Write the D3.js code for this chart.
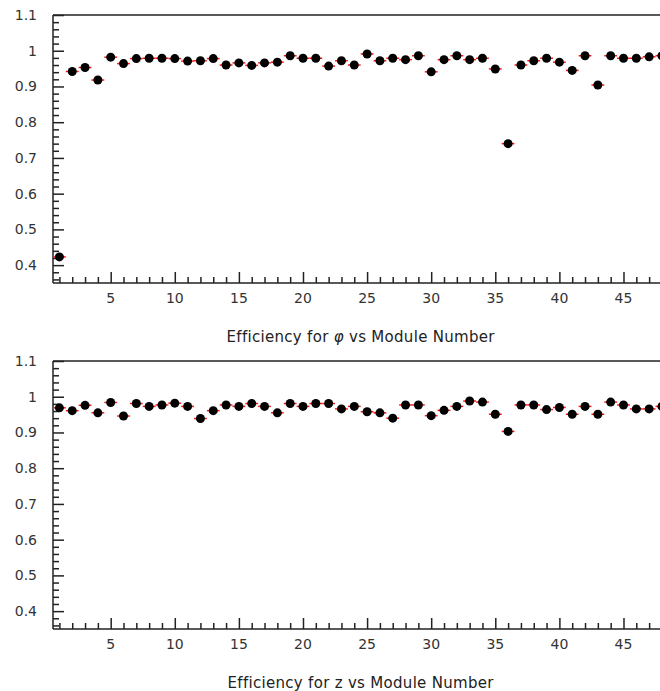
<!DOCTYPE html>
<html>
<head>
<meta charset="utf-8">
<script src="https://cdn.jsdelivr.net/npm/d3@7"></script>
<style>
  body { margin: 0; background: #fff; }
  svg { display: block; }
</style>
</head>
<body>
<script>
const width = 660;
const height = 691;

// module numbers 1..48
const modules = d3.range(1, 49);

const effPhi = [
  0.423, 0.942, 0.953, 0.918, 0.982, 0.964, 0.978, 0.979, 0.979, 0.978,
  0.971, 0.972, 0.978, 0.960, 0.966, 0.959, 0.966, 0.968, 0.986, 0.979,
  0.979, 0.957, 0.972, 0.960, 0.991, 0.972, 0.979, 0.975, 0.986, 0.941,
  0.975, 0.986, 0.975, 0.979, 0.949, 0.740, 0.960, 0.972, 0.979, 0.968,
  0.945, 0.986, 0.904, 0.986, 0.979, 0.979, 0.983, 0.986
];

const effZ = [
  0.969, 0.961, 0.976, 0.955, 0.984, 0.946, 0.981, 0.973, 0.977, 0.982,
  0.973, 0.939, 0.961, 0.977, 0.973, 0.981, 0.973, 0.955, 0.981, 0.973,
  0.981, 0.981, 0.966, 0.973, 0.958, 0.955, 0.940, 0.977, 0.977, 0.947,
  0.962, 0.973, 0.988, 0.985, 0.951, 0.903, 0.977, 0.977, 0.964, 0.970,
  0.951, 0.973, 0.951, 0.985, 0.977, 0.966, 0.966, 0.973
];

const yTicks = [0.4, 0.5, 0.6, 0.7, 0.8, 0.9, 1, 1.1];
const xTicks = [5, 10, 15, 20, 25, 30, 35, 40, 45];

const marginLeft = 53;
const plotW = 48 * 12.82;
const plotH = 268;
const font = "'DejaVu Sans', sans-serif";

const svg = d3.select("body").append("svg")
  .attr("width", width)
  .attr("height", height)
  .attr("viewBox", [0, 0, width, height]);

const x = d3.scaleLinear([0.5, 48.5], [marginLeft, marginLeft + plotW]);

function drawPanel(values, top, titleParts) {
  const y = d3.scaleLinear([0.35, 1.1], [top + plotH, top]);
  const g = svg.append("g");

  // frame: top line
  g.append("line")
    .attr("x1", marginLeft).attr("x2", marginLeft + plotW)
    .attr("y1", top).attr("y2", top)
    .attr("stroke", "#222").attr("stroke-width", 1.5);

  // y axis with inward ticks
  const yAxis = d3.axisRight(y)
    .tickValues(d3.range(0.36, 1.1001, 0.02))
    .tickSize(6)
    .tickFormat("");
  const yg = g.append("g")
    .attr("transform", `translate(${marginLeft},0)`)
    .call(yAxis);
  yg.selectAll(".tick line")
    .attr("x2", d => yTicks.some(t => Math.abs(t - d) < 1e-6) ? 11 : 6);
  yg.selectAll("line, path").attr("stroke", "#222").attr("stroke-width", 1.5);
  yg.select(".domain").attr("d", `M0,${top}V${top + plotH}`);

  g.selectAll(".ylab")
    .data(yTicks)
    .join("text")
    .attr("x", 37)
    .attr("y", d => y(d) + 5)
    .attr("text-anchor", "end")
    .attr("font-family", font)
    .attr("font-size", 14)
    .attr("fill", "#333")
    .text(d => d3.format("")(d));

  // x axis with inward ticks
  const xAxis = d3.axisTop(x)
    .tickValues(d3.range(1, 49))
    .tickSize(6)
    .tickFormat("");
  const xg = g.append("g")
    .attr("transform", `translate(0,${top + plotH})`)
    .call(xAxis);
  xg.selectAll(".tick line")
    .attr("y2", d => d % 5 === 0 ? -11 : -6);
  xg.selectAll("line, path").attr("stroke", "#222").attr("stroke-width", 1.5);
  xg.select(".domain").attr("d", `M${marginLeft},0H${marginLeft + plotW}`);

  g.selectAll(".xlab")
    .data(xTicks)
    .join("text")
    .attr("x", d => x(d))
    .attr("y", top + plotH + 20)
    .attr("text-anchor", "middle")
    .attr("font-family", font)
    .attr("font-size", 14)
    .attr("fill", "#333")
    .text(d => d);

  // error bars (bin width)
  g.append("g")
    .attr("stroke", "#ff1a1a")
    .attr("stroke-width", 1.5)
    .selectAll("line")
    .data(modules)
    .join("line")
    .attr("x1", (d) => x(d - 0.5))
    .attr("x2", (d) => x(d + 0.5))
    .attr("y1", (d, i) => y(values[i]))
    .attr("y2", (d, i) => y(values[i]));

  g.append("g")
    .attr("fill", "#000")
    .selectAll("circle")
    .data(modules)
    .join("circle")
    .attr("cx", d => x(d))
    .attr("cy", (d, i) => y(values[i]))
    .attr("r", 4.5);

  const title = g.append("text")
    .attr("x", x(24.5))
    .attr("y", top + plotH + 59)
    .attr("text-anchor", "middle")
    .attr("font-family", font)
    .attr("font-size", 15)
    .attr("letter-spacing", 0.3)
    .attr("fill", "#222");
  titleParts.forEach(p => {
    title.append("tspan")
      .attr("font-style", p.italic ? "italic" : null)
      .text(p.text);
  });
}

drawPanel(effPhi, 15, [
  { text: "Efficiency for " },
  { text: "φ", italic: true },
  { text: " vs Module Number" }
]);

drawPanel(effZ, 361, [
  { text: "Efficiency for z vs Module Number" }
]);
</script>
</body>
</html>
